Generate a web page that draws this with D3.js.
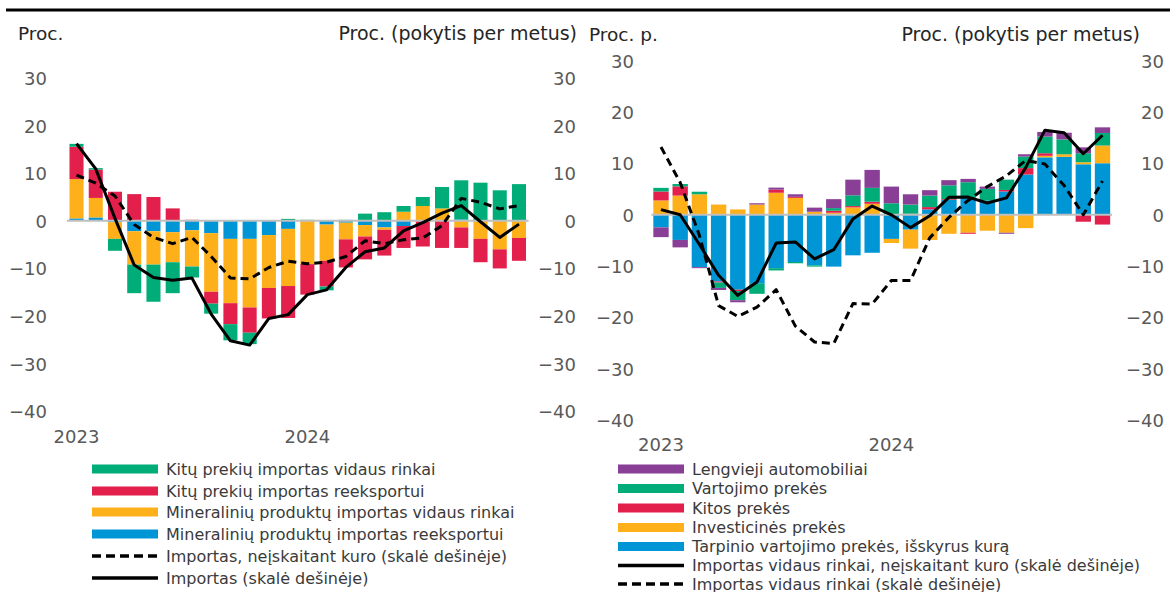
<!DOCTYPE html>
<html><head><meta charset="utf-8">
<script src="https://cdn.jsdelivr.net/npm/d3@7"></script>
<style>
body{margin:0;background:#fff}
svg{display:block}
text{font-family:"DejaVu Sans",Verdana,sans-serif}
</style>
</head><body>
<svg id="chart" width="1170" height="592"></svg>
<script>
// ---------- data ----------
const months = ["2023-01","2023-02","2023-03","2023-04","2023-05","2023-06","2023-07","2023-08","2023-09","2023-10","2023-11","2023-12",
                "2024-01","2024-02","2024-03","2024-04","2024-05","2024-06","2024-07","2024-08","2024-09","2024-10","2024-11","2024-12"];
const yearTicks = ["2023-01","2024-01"];
const yearLabels = ["2023","2024"];
const yTicks = [30,20,10,0,-10,-20,-30,-40];

// left panel (Proc.)
const leftMineralReexport = [0.5,0.7,-0.3,-2.2,-2.2,-2.4,-2.0,-2.6,-3.8,-3.8,-3.0,-1.7,0,-0.8,-0.4,-0.9,-1.4,-1.1,0,0,0.3,0,0,0];
const leftMineralDomestic = [8.25,4.1,-3.5,-7.0,-7.0,-6.3,-7.6,-12.3,-13.5,-14.4,-11.1,-12.0,-9.1,-7.6,-3.5,-2.4,-0.5,1.9,3.1,2.6,-1.4,-3.8,-6.0,-3.6];
const leftOtherReexport   = [6.8,5.95,6.1,5.6,5.0,2.6,0.2,-2.5,-4.4,-5.3,-6.4,-6.7,-6.4,-5.4,-5.9,-4.8,-5.4,-4.6,-5.4,-5.7,-4.3,-4.9,-4.0,-4.8];
const leftOtherDomestic   = [0.6,0.3,-2.5,-6.0,-7.8,-6.5,-2.3,-2.1,-3.4,-2.4,0,0.4,0.2,-0.8,0.2,1.5,1.8,1.2,1.9,4.5,8.2,8.0,6.4,7.7];
const leftImports         = [16.2,10.9,0.5,-9.3,-11.9,-12.5,-12.0,-19.6,-25.2,-26.1,-20.5,-19.7,-15.5,-14.5,-9.8,-6.5,-5.7,-2.1,-0.4,1.6,3.2,-0.2,-3.5,-0.7];
const leftImportsExFuel   = [9.6,7.9,5.2,-0.8,-3.5,-4.8,-3.5,-7.5,-12.0,-12.2,-9.8,-8.5,-9.0,-8.7,-7.5,-4.2,-4.8,-4.0,-3.6,-1.0,4.7,3.9,2.5,3.2];

// right panel (Proc. p.)
const rightIntermediate = [-2.45,-4.9,-10.2,-13.0,-14.6,-13.45,-10.4,-9.2,-9.85,-10.1,-7.9,-7.4,-4.7,-2.9,1.05,2.9,3.25,2.8,4.55,7.85,11.2,11.3,9.85,10.05];
const rightInvestment   = [2.8,3.75,4.0,2.0,1.05,2.0,4.3,3.3,0.6,0.4,1.45,2.15,-0.8,-3.7,-4.9,-3.7,-3.5,-3.1,-3.5,-2.6,0.3,0.5,0.4,3.45];
const rightOther        = [1.75,1.8,0,-0.2,-0.25,0,0.6,0.2,0,0.4,0.25,0.4,0,0.2,0.45,0.15,-0.2,0,0.3,1.25,0.5,0,-1.35,-1.9];
const rightConsumer     = [0.7,0.45,0.5,-1.05,-1.8,-1.95,-0.45,-0.25,-0.25,0.5,2.1,2.7,2.25,1.8,2.25,2.7,3.1,2.25,2.0,2.25,3.25,2.9,1.75,2.45];
const rightCars         = [-1.9,-1.45,-0.2,-0.4,-0.4,0.25,0.4,0.5,0.8,1.75,3.05,3.5,3.25,2.0,1.05,1.0,0.65,0.45,-0.2,0.45,0.9,1.3,1.15,1.1];
const rightDomesticExFuel = [1.0,0.0,-5.8,-11.8,-15.7,-13.1,-5.5,-5.3,-8.6,-6.8,-0.8,1.7,0.0,-2.5,-0.2,3.4,3.45,2.3,3.3,9.2,16.5,16.0,11.9,15.5];
const rightDomestic       = [13.2,6.3,-4.0,-17.7,-19.8,-18.0,-14.6,-21.7,-24.8,-25.1,-17.3,-17.4,-12.8,-12.8,-4.5,-0.5,2.8,5.5,7.6,10.6,9.9,5.7,0.0,6.6];

const leftLegendLabels = ["Kitų prekių importas vidaus rinkai","Kitų prekių importas reeksportui",
  "Mineralinių produktų importas vidaus rinkai","Mineralinių produktų importas reeksportui",
  "Importas, neįskaitant kuro (skalė dešinėje)","Importas (skalė dešinėje)"];
const rightLegendLabels = ["Lengvieji automobiliai","Vartojimo prekės","Kitos prekės","Investicinės prekės",
  "Tarpinio vartojimo prekės, išskyrus kurą","Importas vidaus rinkai, neįskaitant kuro (skalė dešinėje)",
  "Importas vidaus rinkai (skalė dešinėje)"];

// ---------- styles ----------
const C = {green:"#00AC78", red:"#E31F4C", orange:"#FDB01A", blue:"#0096D6", purple:"#8A3F96"};
const tickColor = "#595959", titleColor = "#262626", legendColor = "#3a3a3a";

const svg = d3.select("#chart");
svg.append("line").attr("x1",6).attr("x2",1170).attr("y1",10).attr("y2",10)
  .attr("stroke","#000").attr("stroke-width",3);

function drawPanel(p){
  const g = svg.append("g");
  const x = d3.scaleBand().domain(months).range(p.xRange).paddingInner(p.pi).paddingOuter(p.po);
  const y = d3.scaleLinear().domain([-40,30]).range(p.yRange);
  const yR = d3.scaleLinear().domain([-40,30]).range(p.yRange);
  const rows = months.map((m,i)=>{const r={month:m}; p.series.forEach(s=>r[s.key]=s.values[i]); return r;});
  const layers = d3.stack().keys(p.series.map(s=>s.key)).offset(d3.stackOffsetDiverging)(rows);
  const colorOf = Object.fromEntries(p.series.map(s=>[s.key,s.color]));

  g.selectAll("g.layer").data(layers).join("g").attr("class","layer")
    .attr("fill",d=>colorOf[d.key])
    .selectAll("rect").data(d=>d).join("rect")
    .attr("x",d=>x(d.data.month)).attr("width",x.bandwidth())
    .attr("y",d=>y(Math.max(d[0],d[1]))).attr("height",d=>Math.abs(y(d[0])-y(d[1])));

  g.append("line").attr("x1",p.xRange[0]).attr("x2",p.xRange[1])
    .attr("y1",y(0)).attr("y2",y(0)).attr("stroke","#BFBFBF").attr("stroke-width",2);

  p.lines.forEach(l=>{
    const line = d3.line().x((d,i)=>x(months[i])+x.bandwidth()/2).y(d=>yR(d));
    g.append("path").datum(l.values).attr("d",line).attr("fill","none")
      .attr("stroke","#000").attr("stroke-width",3).attr("stroke-linejoin","round")
      .attr("stroke-dasharray",l.dash?"8,5":null);
  });

  const la = g.append("g").attr("transform",`translate(${p.leftAxisX},0)`)
    .call(d3.axisLeft(y).tickValues(yTicks).tickSize(0).tickPadding(0).tickFormat(d3.format("d")));
  la.select(".domain").remove();
  la.selectAll("text").attr("fill",tickColor).attr("font-size",18).attr("font-family","DejaVu Sans").attr("dy","0.36em");
  const ra = g.append("g").attr("transform",`translate(${p.rightAxisX},0)`)
    .call(d3.axisRight(yR).tickValues(yTicks).tickSize(0).tickPadding(0).tickFormat(d3.format("d")));
  ra.select(".domain").remove();
  ra.selectAll("text").attr("fill",tickColor).attr("font-size",18).attr("font-family","DejaVu Sans")
    .attr("text-anchor","end").attr("x",0).attr("dy","0.36em");
  const xa = g.append("g").attr("transform",`translate(0,${p.yearBaseline})`)
    .call(d3.axisBottom(x).tickValues(yearTicks).tickSize(0).tickPadding(0)
      .tickFormat(d=>yearLabels[yearTicks.indexOf(d)]));
  xa.select(".domain").remove();
  xa.selectAll("text").attr("fill",tickColor).attr("font-size",18).attr("font-family","DejaVu Sans")
    .attr("y",0).attr("dy",0);

  g.append("text").attr("x",p.titleLeftX).attr("y",p.titleBaseline).text(p.titleLeft)
    .attr("fill",titleColor).attr("font-size",18.5);
  g.append("text").attr("x",p.titleRightX).attr("y",p.titleBaseline).text("Proc. (pokytis per metus)")
    .attr("text-anchor","end").attr("fill",titleColor).attr("font-size",19);

  const lg = g.append("g");
  p.legend.forEach((it,i)=>{
    const cy = p.legendRows[i];
    if(it.type==="rect"){
      lg.append("rect").attr("x",p.legendX).attr("y",cy-4.5).attr("width",66).attr("height",9).attr("fill",it.color);
    } else {
      lg.append("line").attr("x1",p.legendX).attr("x2",p.legendX+66).attr("y1",cy).attr("y2",cy)
        .attr("stroke","#000").attr("stroke-width",3.5).attr("stroke-dasharray",it.dash?"9,5":null);
    }
    lg.append("text").attr("x",p.legendX+74).attr("y",cy+5.5).text(it.label)
      .attr("fill",legendColor).attr("font-size",16);
  });
}

drawPanel({
  xRange:[66.9,528.6], pi:0.27, po:0.135, yRange:[411.3,77.9],
  series:[
    {key:"mrex",values:leftMineralReexport,color:C.blue},
    {key:"mdom",values:leftMineralDomestic,color:C.orange},
    {key:"orex",values:leftOtherReexport,color:C.red},
    {key:"odom",values:leftOtherDomestic,color:C.green}
  ],
  lines:[{values:leftImportsExFuel,dash:true},{values:leftImports,dash:false}],
  leftAxisX:47, rightAxisX:576, yearBaseline:443,
  titleLeft:"Proc.", titleLeftX:18, titleRightX:577, titleBaseline:40,
  legendX:92, legendRows:[469,491,512,534,556,578],
  legend:[
    {type:"rect",color:C.green,label:leftLegendLabels[0]},
    {type:"rect",color:C.red,label:leftLegendLabels[1]},
    {type:"rect",color:C.orange,label:leftLegendLabels[2]},
    {type:"rect",color:C.blue,label:leftLegendLabels[3]},
    {type:"line",dash:true,label:leftLegendLabels[4]},
    {type:"line",dash:false,label:leftLegendLabels[5]}
  ]
});

drawPanel({
  xRange:[651.4,1112.1], pi:0.2, po:0.1, yRange:[420,60.9],
  series:[
    {key:"inter",values:rightIntermediate,color:C.blue},
    {key:"inv",values:rightInvestment,color:C.orange},
    {key:"oth",values:rightOther,color:C.red},
    {key:"cons",values:rightConsumer,color:C.green},
    {key:"cars",values:rightCars,color:C.purple}
  ],
  lines:[{values:rightDomestic,dash:true},{values:rightDomesticExFuel,dash:false}],
  leftAxisX:634, rightAxisX:1164, yearBaseline:451,
  titleLeft:"Proc. p.", titleLeftX:589, titleRightX:1140, titleBaseline:41,
  legendX:618, legendRows:[469,488.5,508,527.5,546.5,565.5,584],
  legend:[
    {type:"rect",color:C.purple,label:rightLegendLabels[0]},
    {type:"rect",color:C.green,label:rightLegendLabels[1]},
    {type:"rect",color:C.red,label:rightLegendLabels[2]},
    {type:"rect",color:C.orange,label:rightLegendLabels[3]},
    {type:"rect",color:C.blue,label:rightLegendLabels[4]},
    {type:"line",dash:false,label:rightLegendLabels[5]},
    {type:"line",dash:true,label:rightLegendLabels[6]}
  ]
});
</script>
</body></html>
